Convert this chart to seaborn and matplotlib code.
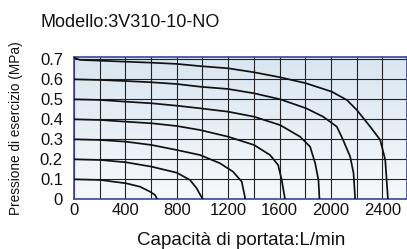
import numpy as np
import pandas as pd
import matplotlib
matplotlib.use("Agg")
import matplotlib.pyplot as plt
from matplotlib.ticker import MultipleLocator, FuncFormatter
import seaborn as sns

# pressure level of each curve (MPa)
levels = [0.1, 0.2, 0.3, 0.4, 0.5, 0.6, 0.7]

# flow (L/min) / pressure (MPa), one pair per curve
flow_01 = [0, 208, 405, 514, 592, 631, 648]
pres_01 = [0.1, 0.0965, 0.08, 0.063, 0.038, 0.0215, 0.0]

flow_02 = [0, 208, 405, 605, 800, 903, 955, 985, 1005]
pres_02 = [0.2, 0.1965, 0.185, 0.163, 0.133, 0.0965, 0.055, 0.02, 0.0]

flow_03 = [0, 208, 405, 605, 800, 981, 1137, 1238, 1306, 1334]
pres_03 = [0.3, 0.2965, 0.288, 0.2715, 0.2465, 0.2215, 0.18, 0.138, 0.088, 0.0]

flow_04 = [0, 208, 405, 605, 800, 981, 1200, 1402, 1526, 1589, 1617, 1643]
pres_04 = [0.4, 0.3965, 0.388, 0.38, 0.3665, 0.3465, 0.313, 0.2715, 0.2215, 0.1715, 0.0965, 0.0]

flow_05 = [0, 208, 405, 605, 800, 981, 1200, 1402, 1605, 1760, 1838, 1877, 1903, 1911]
pres_05 = [0.5, 0.4965, 0.488, 0.48, 0.468, 0.455, 0.438, 0.413, 0.371, 0.313, 0.263, 0.1815, 0.0965, 0.0]

flow_06 = [0, 208, 405, 605, 800, 981, 1200, 1402, 1605, 1807, 1940, 2046, 2095, 2150, 2176, 2189]
pres_06 = [0.6, 0.5965, 0.5915, 0.585, 0.5765, 0.563, 0.5515, 0.53, 0.5, 0.455, 0.413, 0.363, 0.2965, 0.213, 0.1315, 0.0]

flow_07 = [0, 47, 208, 405, 605, 800, 981, 1200, 1402, 1605, 1807, 2007, 2124, 2202, 2306, 2384, 2423, 2444]
pres_07 = [0.708, 0.697, 0.693, 0.688, 0.683, 0.677, 0.666, 0.655, 0.635, 0.61, 0.58, 0.538, 0.4965, 0.4465, 0.363, 0.2965, 0.1965, 0.0]

flows = [flow_01, flow_02, flow_03, flow_04, flow_05, flow_06, flow_07]
pressures = [pres_01, pres_02, pres_03, pres_04, pres_05, pres_06, pres_07]

x_ticks = [0, 400, 800, 1200, 1600, 2000, 2400]
y_ticks = [0, 0.1, 0.2, 0.3, 0.4, 0.5, 0.6, 0.7]

title = "Modello:3V310-10-NO"
x_label = "Capacità di portata:L/min"
y_label = "Pressione di esercizio (MPa)"

rows = []
for lvl, fl, pr in zip(levels, flows, pressures):
    for f, p in zip(fl, pr):
        rows.append({"curve": lvl, "flow": f, "pressure": p})
df = pd.DataFrame(rows)

sns.set_theme(style="white")
plt.rcParams["font.family"] = ["Liberation Sans", "DejaVu Sans"]

fig = plt.figure(figsize=(4.07, 2.49), dpi=100)
ax = fig.add_axes([74 / 407, 1 - 199.3 / 249, 332.7 / 407, 142 / 249])

xmax, ymax = 2590, 0.71

# soft blue gradient background
grad = np.linspace(1, 0, 256).reshape(-1, 1)
cmap = matplotlib.colors.LinearSegmentedColormap.from_list("bg", ["#f6f9fc", "#d9e6f0"])
ax.imshow(grad, extent=[0, xmax, 0, ymax], aspect="auto", cmap=cmap, origin="upper", zorder=0)

sns.lineplot(data=df, x="flow", y="pressure", units="curve", estimator=None, sort=False,
             color="#111111", linewidth=1.25, ax=ax, zorder=3)

ax.set_xlim(0, xmax)
ax.set_ylim(0, ymax)
ax.set_xticks(x_ticks)
ax.xaxis.set_minor_locator(MultipleLocator(200))
ax.set_yticks(y_ticks)
ax.yaxis.set_major_formatter(FuncFormatter(lambda v, _: "0" if v == 0 else f"{v:.1f}"))
ax.grid(True, which="both", color="#222222", linewidth=0.8, zorder=1)
ax.set_axisbelow(True)
for s in ax.spines.values():
    s.set_color("#3c44a0")
    s.set_linewidth(1.2)
ax.tick_params(axis="both", which="both", length=0, labelsize=12, colors="#111111")
ax.tick_params(axis="x", pad=3)
ax.tick_params(axis="y", pad=8)

ax.set_xlabel("")
ax.set_ylabel(y_label, fontsize=9.8, color="#111111")
ax.yaxis.set_label_coords(-0.152, 0.5)

fig.text(0.593, 0.016, x_label, ha="center", va="baseline", fontsize=13.5, color="#111111")
fig.text(40 / 407, 1 - 27 / 249, title, ha="left", va="baseline", fontsize=13, color="#111111")

fig.savefig("out.png", dpi=100)
